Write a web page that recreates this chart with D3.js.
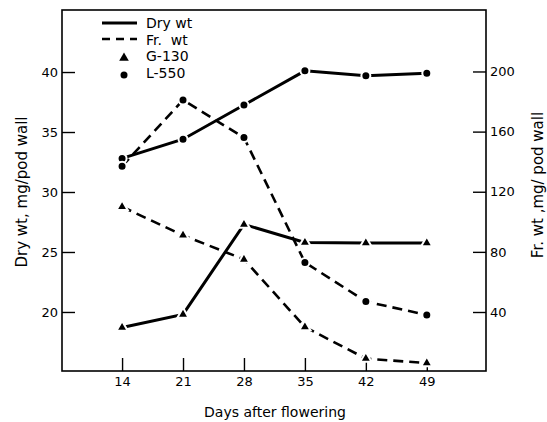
<!DOCTYPE html>
<html>
<head>
<meta charset="utf-8">
<script src="https://cdn.jsdelivr.net/npm/d3@7"></script>
<style>
  body { margin: 0; background: #fff; }
  svg { display: block; font-family: "DejaVu Sans", sans-serif; }
</style>
</head>
<body>
<svg id="chart" width="547" height="422"></svg>
<script>
// days after flowering
const days = [14, 21, 28, 35, 42, 49];
const xTicks = [14, 21, 28, 35, 42, 49];
const leftTicks = [20, 25, 30, 35, 40];
const rightTicks = [40, 80, 120, 160, 200];

// dry weight, mg/pod wall (left axis)
const dryG130 = [18.7, 19.8, 27.3, 25.8, 25.75, 25.75];
const dryL550 = [32.8, 34.4, 37.25, 40.1, 39.7, 39.9];
// fresh weight, mg/pod wall (right axis)
const frG130 = [110, 91, 75, 30, 9, 6];
const frL550 = [137, 181, 156, 73, 47, 38];

const svg = d3.select('#chart');
const frame = {left: 62, right: 486, top: 10, bottom: 371};

const x = d3.scaleLinear().domain([7.1, 55.8]).range([frame.left, frame.right]);
const yL = d3.scaleLinear().domain([15.08, 45.17]).range([frame.bottom, frame.top]);
const yR = d3.scaleLinear().domain([0.75, 240.9]).range([frame.bottom, frame.top]);

// frame
svg.append('rect')
    .attr('x', frame.left).attr('y', frame.top)
    .attr('width', frame.right - frame.left).attr('height', frame.bottom - frame.top)
    .attr('fill', 'none').attr('stroke', '#000').attr('stroke-width', 1.6);

// axes, ticks pointing inward
const axL = svg.append('g').attr('transform', 'translate(' + frame.left + ',0)')
    .call(d3.axisRight(yL).tickValues(leftTicks).tickSize(13).tickFormat(d3.format('d')));
axL.selectAll('text').attr('x', -4).style('text-anchor', 'end');

const axR = svg.append('g').attr('transform', 'translate(' + frame.right + ',0)')
    .call(d3.axisLeft(yR).tickValues(rightTicks).tickSize(13).tickFormat(d3.format('d')));
axR.selectAll('text').attr('x', 4).style('text-anchor', 'start');

const axB = svg.append('g').attr('transform', 'translate(0,' + frame.bottom + ')')
    .call(d3.axisTop(x).tickValues(xTicks).tickSize(13).tickFormat(d3.format('d')));
axB.selectAll('text').attr('y', 6).attr('dy', '0.71em');

[axL, axR, axB].forEach(a => {
    a.select('.domain').remove();
    a.selectAll('line').attr('stroke-width', 1.4);
    a.selectAll('text').attr('font-size', 13).attr('fill', '#000')
        .attr('font-family', '"DejaVu Sans", sans-serif');
});

// series
const series = [
    {vals: dryG130, y: yL, dash: null, mark: 'tri'},
    {vals: dryL550, y: yL, dash: null, mark: 'dot'},
    {vals: frG130, y: yR, dash: '10,6', mark: 'tri'},
    {vals: frL550, y: yR, dash: '10,6', mark: 'dot'}
];

series.forEach(s => {
    const line = d3.line().x((d, i) => x(days[i])).y(d => s.y(d));
    svg.append('path')
        .datum(s.vals)
        .attr('d', line)
        .attr('fill', 'none')
        .attr('stroke', '#000')
        .attr('stroke-width', s.dash ? 2.6 : 3)
        .attr('stroke-dasharray', s.dash);
});

const triSym = d3.symbol().type(d3.symbolTriangle).size(55);
series.forEach(s => {
    const g = svg.append('g');
    if (s.mark === 'dot') {
        g.selectAll('circle').data(s.vals).enter().append('circle')
            .attr('cx', (d, i) => x(days[i]))
            .attr('cy', d => s.y(d))
            .attr('r', 4.5)
            .attr('fill', '#000').attr('stroke', '#fff').attr('stroke-width', 2);
    } else {
        g.selectAll('path').data(s.vals).enter().append('path')
            .attr('d', triSym)
            .attr('transform', (d, i) => 'translate(' + x(days[i]) + ',' + s.y(d) + ')')
            .attr('fill', '#000').attr('stroke', '#fff').attr('stroke-width', 2);
    }
});

// legend
const lg = svg.append('g').attr('font-size', 14);
lg.append('line').attr('x1', 102).attr('x2', 137).attr('y1', 23).attr('y2', 23)
    .attr('stroke', '#000').attr('stroke-width', 3);
lg.append('line').attr('x1', 102).attr('x2', 137).attr('y1', 39).attr('y2', 39)
    .attr('stroke', '#000').attr('stroke-width', 2.6).attr('stroke-dasharray', '8,6');
lg.append('path').attr('d', d3.symbol().type(d3.symbolTriangle).size(40))
    .attr('transform', 'translate(124,58)');
lg.append('circle').attr('cx', 124).attr('cy', 75).attr('r', 3.5);
const labels = ['Dry wt', 'Fr.  wt', 'G-130', 'L-550'];
lg.selectAll('text').data(labels).enter().append('text')
    .attr('x', 146)
    .attr('y', (d, i) => 28 + i * 16.5)
    .style('white-space', 'pre')
    .text(d => d);

// axis titles
svg.append('text')
    .attr('transform', 'translate(27,192)rotate(-90)')
    .attr('text-anchor', 'middle').attr('font-size', 15)
    .text('Dry wt, mg/pod wall');
svg.append('text')
    .attr('transform', 'translate(543,185)rotate(-90)')
    .attr('text-anchor', 'middle').attr('font-size', 15)
    .style('white-space', 'pre')
    .text('Fr. wt ,mg/ pod wall');
svg.append('text')
    .attr('x', 275).attr('y', 417)
    .attr('text-anchor', 'middle').attr('font-size', 14)
    .text('Days after flowering');
</script>
</body>
</html>
